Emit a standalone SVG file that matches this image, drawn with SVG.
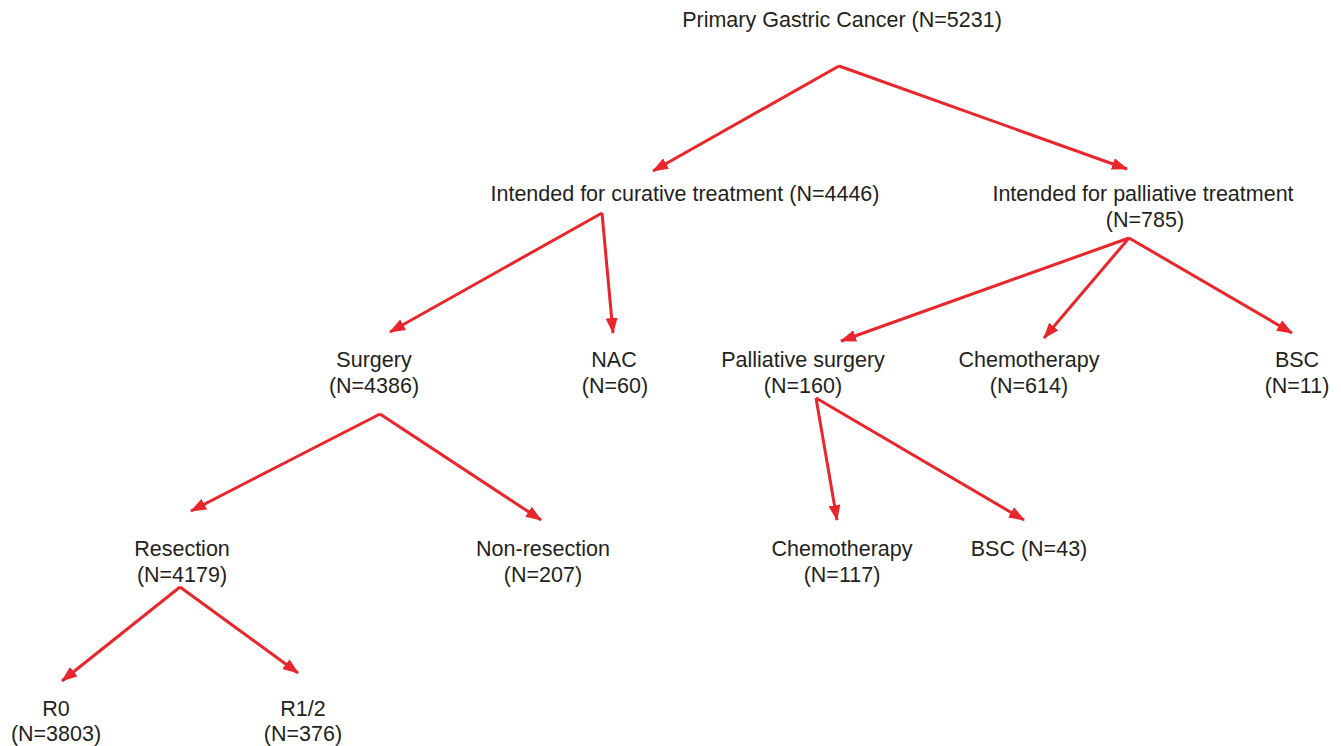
<svg xmlns="http://www.w3.org/2000/svg" width="1341" height="746" viewBox="0 0 1341 746">
<style>
text{font-family:"Liberation Sans",Arial,sans-serif;font-size:21.5px;fill:#231f20;text-anchor:middle}
.c line{stroke:#e8262b;stroke-width:3;marker-end:url(#ah)}
</style>
<defs>
<marker id="ah" viewBox="0 0 16 12" refX="15" refY="6" markerWidth="16" markerHeight="12" orient="auto" markerUnits="userSpaceOnUse">
<path d="M0,0 L16,6 L0,12 z" fill="#e8262b"/>
</marker>
</defs>
<rect width="1341" height="746" fill="#fff"/>
<g class="c" id="connectors">
<line x1="839" y1="66" x2="653" y2="171"/>
<line x1="839" y1="66" x2="1127" y2="169"/>
<line x1="602" y1="213" x2="390" y2="332"/>
<line x1="602" y1="213" x2="613" y2="333"/>
<line x1="1129" y1="238" x2="841" y2="341"/>
<line x1="1129" y1="238" x2="1044" y2="338"/>
<line x1="1129" y1="238" x2="1292" y2="333"/>
<line x1="380" y1="414" x2="191" y2="511"/>
<line x1="380" y1="414" x2="541" y2="520"/>
<line x1="816" y1="398" x2="837" y2="520"/>
<line x1="816" y1="398" x2="1024" y2="520"/>
<line x1="180" y1="587" x2="62" y2="681"/>
<line x1="180" y1="587" x2="298" y2="673"/>
</g>
<g id="root"><text x="842" y="27">Primary Gastric Cancer (N=5231)</text></g>
<g id="curative"><text x="685" y="201">Intended for curative treatment (N=4446)</text></g>
<g id="palliative"><text x="1143" y="201">Intended for palliative treatment</text><text x="1145" y="227">(N=785)</text></g>
<g id="surgery"><text x="374" y="367">Surgery</text><text x="374" y="393">(N=4386)</text></g>
<g id="nac"><text x="614" y="367">NAC</text><text x="615" y="393">(N=60)</text></g>
<g id="palliative-surgery"><text x="803" y="367">Palliative surgery</text><text x="803" y="393">(N=160)</text></g>
<g id="chemo1"><text x="1029" y="367">Chemotherapy</text><text x="1029" y="393">(N=614)</text></g>
<g id="bsc1"><text x="1297" y="367">BSC</text><text x="1297" y="393">(N=11)</text></g>
<g id="resection"><text x="182" y="556">Resection</text><text x="182" y="582">(N=4179)</text></g>
<g id="non-resection"><text x="543" y="556">Non-resection</text><text x="543" y="582">(N=207)</text></g>
<g id="chemo2"><text x="842" y="556">Chemotherapy</text><text x="842" y="582">(N=117)</text></g>
<g id="bsc2"><text x="1029" y="556">BSC (N=43)</text></g>
<g id="r0"><text x="56" y="716">R0</text><text x="56" y="741">(N=3803)</text></g>
<g id="r12"><text x="303" y="716">R1/2</text><text x="303" y="741">(N=376)</text></g>
</svg>
